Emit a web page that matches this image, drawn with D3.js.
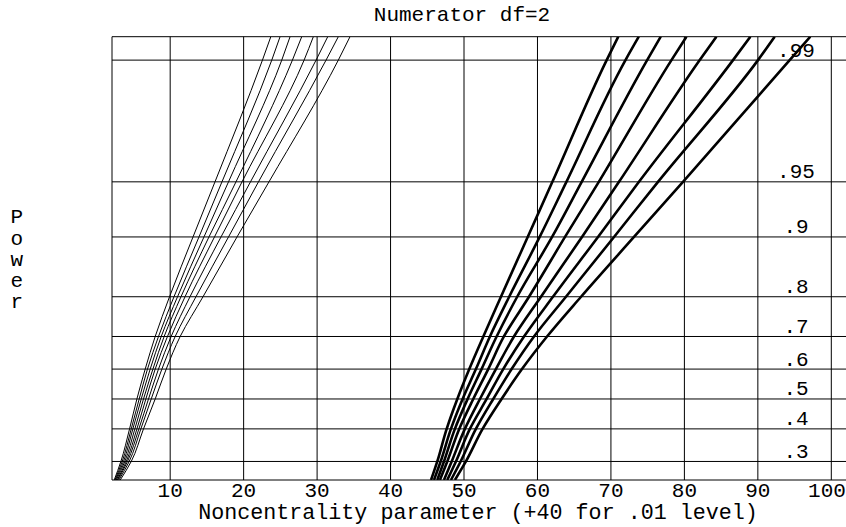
<!DOCTYPE html>
<meta charset="utf-8">
<head>
<style>
body { margin: 0; background: #fff; }
text {
  font-family: "Liberation Mono", monospace;
  font-size: 21px;
  fill: #000;
}
.grid line { stroke: #000; stroke-width: 1px; }
.thin { fill: none; stroke: #000; stroke-width: 1px; }
.thick { fill: none; stroke: #000; stroke-width: 2.6px; }
</style>
<script src="https://d3js.org/d3.v7.min.js"></script>
</head>
<body>
<div id="chart"></div>
<script>

var powerLevels = [0.25, 0.3, 0.4, 0.5, 0.6, 0.7, 0.8, 0.9, 0.95, 0.99, 0.9927];

// horizontal reference lines + their labels
var gridPowers = [0.3, 0.4, 0.5, 0.6, 0.7, 0.8, 0.9, 0.95, 0.99];
var gridLabels = [".3", ".4", ".5", ".6", ".7", ".8", ".9", ".95", ".99"];

var xTicks = [10, 20, 30, 40, 50, 60, 70, 80, 90, 100];

// .05 level curves (thin), noncentrality at each power level
var thinCurves = [
  [2.38, 3.29, 4.47, 5.47, 6.60, 7.96, 9.91, 13.11, 16.10, 22.56, 23.70],
  [2.47, 3.47, 4.70, 5.78, 6.91, 8.41, 10.52, 13.92, 17.05, 23.83, 24.96],
  [2.56, 3.65, 4.92, 6.06, 7.28, 8.78, 11.00, 14.60, 17.94, 25.19, 26.32],
  [2.66, 3.83, 5.19, 6.37, 7.65, 9.18, 11.47, 15.28, 18.96, 26.64, 27.91],
  [2.79, 4.02, 5.47, 6.69, 7.96, 9.63, 12.02, 16.03, 19.78, 28.23, 29.49],
  [2.88, 4.19, 5.74, 7.05, 8.41, 10.13, 12.70, 16.92, 20.93, 29.86, 31.45],
  [3.02, 4.42, 6.01, 7.42, 8.87, 10.68, 13.51, 17.94, 22.02, 31.22, 32.89],
  [3.20, 4.70, 6.37, 7.96, 9.46, 11.36, 14.47, 19.10, 23.45, 32.89, 34.48]
];

// .01 level curves (thick), noncentrality + 40
var thickCurves = [
  [45.51, 46.36, 47.64, 49.09, 50.72, 52.63, 55.03, 58.67, 62.03, 69.42, 71.00],
  [45.91, 46.82, 48.22, 49.81, 51.62, 53.53, 56.15, 60.30, 63.94, 71.98, 73.79],
  [46.36, 47.27, 48.76, 50.49, 52.39, 54.44, 57.24, 61.99, 66.02, 74.93, 76.78],
  [46.72, 47.72, 49.35, 51.26, 53.30, 55.43, 58.85, 63.75, 68.35, 78.24, 80.28],
  [47.27, 48.32, 50.12, 52.17, 54.34, 56.80, 60.48, 66.06, 71.10, 82.09, 84.36],
  [47.72, 48.90, 50.80, 53.08, 55.34, 58.17, 62.11, 68.24, 73.82, 86.62, 88.98],
  [48.22, 49.54, 51.62, 53.98, 56.48, 59.53, 63.88, 70.42, 76.41, 90.02, 92.29],
  [48.76, 50.26, 52.53, 55.11, 57.89, 61.30, 65.93, 73.14, 79.81, 94.33, 97.14]
];

var W = 846, H = 527;
var plotLeft = 112, plotTop = 36.7, plotBottom = 480;

function logit(p) { return Math.log(p / (1 - p)); }

var svg = d3.select("#chart").append("svg")
  .attr("width", W)
  .attr("height", H);

var x = d3.scaleLinear()
  .domain([2.08, 102])
  .range([plotLeft, W]);

// power axis is on a logit scale
var yl = d3.scaleLinear()
  .domain([logit(0.25), logit(0.9927)])
  .range([plotBottom, plotTop]);
function y(p) { return yl(logit(p)); }

svg.append("clipPath").attr("id", "plotclip")
  .append("rect")
  .attr("x", plotLeft).attr("y", plotTop)
  .attr("width", W - plotLeft).attr("height", plotBottom - plotTop);

////grid
var grid = svg.append("g").attr("class", "grid");
grid.selectAll(".vl")
  .data(xTicks)
  .enter().append("line")
    .attr("x1", function(d) { return x(d); })
    .attr("x2", function(d) { return x(d); })
    .attr("y1", plotTop).attr("y2", plotBottom);
grid.selectAll(".hl")
  .data(gridPowers)
  .enter().append("line")
    .attr("x1", plotLeft).attr("x2", W)
    .attr("y1", function(d) { return y(d); })
    .attr("y2", function(d) { return y(d); });
// frame
grid.append("line").attr("x1", plotLeft).attr("x2", plotLeft).attr("y1", plotTop).attr("y2", plotBottom);
grid.append("line").attr("x1", plotLeft).attr("x2", W).attr("y1", plotTop).attr("y2", plotTop);
grid.append("line").attr("x1", plotLeft).attr("x2", W).attr("y1", plotBottom).attr("y2", plotBottom);

////curves
var line = d3.line()
  .x(function(d) { return x(d[0]); })
  .y(function(d) { return y(d[1]); })
  .curve(d3.curveMonotoneY);

function pts(c) { return c.map(function(v, i) { return [v, powerLevels[i]]; }); }

var curves = svg.append("g").attr("clip-path", "url(#plotclip)");
curves.selectAll(".thin")
  .data(thinCurves)
  .enter().append("path")
    .attr("class", "thin")
    .attr("d", function(d) { return line(pts(d)); });
curves.selectAll(".thick")
  .data(thickCurves)
  .enter().append("path")
    .attr("class", "thick")
    .attr("d", function(d) { return line(pts(d)); });

////labels
svg.selectAll(".plab")
  .data(gridPowers)
  .enter().append("text")
    .attr("x", 796)
    .attr("y", function(d) { return y(d) - 3.5; })
    .attr("text-anchor", "middle")
    .text(function(d, i) { return gridLabels[i]; });

// last tick label is pulled in so it stays inside the window
svg.selectAll(".xtick")
  .data(xTicks)
  .enter().append("text")
    .attr("x", function(d) { return Math.min(x(d), W - 19); })
    .attr("y", 496.5)
    .attr("text-anchor", "middle")
    .text(function(d) { return d; });

svg.append("text")
  .attr("x", 478).attr("y", 518.5)
  .attr("text-anchor", "middle")
  .style("font-size", "21.7px")
  .text("Noncentrality parameter (+40 for .01 level)");

svg.append("text")
  .attr("x", 462).attr("y", 20.5)
  .attr("text-anchor", "middle")
  .text("Numerator df=2");

svg.selectAll(".ylab")
  .data("Power".split(""))
  .enter().append("text")
    .attr("x", 16.7)
    .attr("y", function(d, i) { return 223.3 + i * 21.2; })
    .attr("text-anchor", "middle")
    .text(function(d) { return d; });

</script>
</body>
</html>
